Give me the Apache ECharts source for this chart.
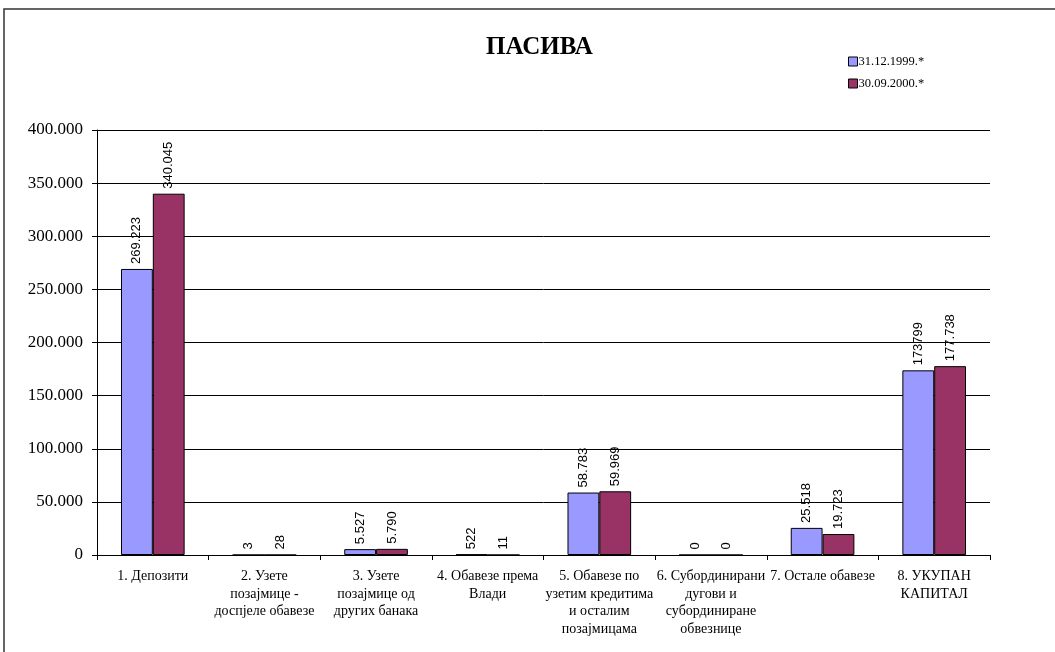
<!DOCTYPE html>
<html><head><meta charset="utf-8">
<script src="https://cdn.jsdelivr.net/npm/echarts@6/dist/echarts.min.js"></script>
<style>html,body{margin:0;padding:0;background:#fff}#c{width:1055px;height:652px}</style>
</head><body><div id="c"></div>
<script>
const categories = [
  "1. Депозити",
  "2. Узете\nпозајмице -\nдоспјеле обавезе",
  "3. Узете\nпозајмице од\nдругих банака",
  "4. Обавезе према\nВлади",
  "5. Обавезе по\nузетим кредитима\nи осталим\nпозајмицама",
  "6. Субординирани\nдугови и\nсубординиране\nобвезнице",
  "7. Остале обавезе",
  "8. УКУПАН\nКАПИТАЛ"
];
const seriesNames = ["31.12.1999.*", "30.09.2000.*"];
const values1999 = [269223, 3, 5527, 522, 58783, 0, 25518, 173799];
const values2000 = [340045, 28, 5790, 11, 59969, 0, 19723, 177738];
const labels1999 = ["269.223", "3", "5.527", "522", "58.783", "0", "25.518", "173799"];
const labels2000 = ["340.045", "28", "5.790", "11", "59.969", "0", "19.723", "177.738"];
const yTicks = [0, 50000, 100000, 150000, 200000, 250000, 300000, 350000, 400000];
const yTickLabels = ["0", "50.000", "100.000", "150.000", "200.000", "250.000", "300.000", "350.000", "400.000"];

const font = "'Liberation Serif','Times New Roman',serif";
const sans = "'Liberation Sans',Arial,sans-serif";

const chart = echarts.init(document.getElementById('c'));
function mkSeries(name, data, labels, color){
  return {
    name, type: 'bar', data, barGap: '0%', barCategoryGap: '43%',
    itemStyle: {color, borderColor: '#000', borderWidth: 1},
    label: {show: true, position: 'top', rotate: 90, align: 'left', verticalAlign: 'middle',
      distance: 5, color: '#000', fontFamily: sans, fontSize: 13,
      formatter: p => labels[p.dataIndex]}
  };
}
chart.setOption({
  animation: false,
  textStyle: {fontFamily: font},
  graphic: [{type: 'rect', shape: {x: 4, y: 9, width: 1200, height: 800},
    style: {fill: 'none', stroke: '#333', lineWidth: 1.5}}],
  title: {text: 'ПАСИВА', left: 481, top: 30,
    textStyle: {fontFamily: font, fontSize: 25, fontWeight: 'bold', color: '#000'}},
  legend: {orient: 'vertical', left: 843, top: 50, itemWidth: 9, itemHeight: 9, itemGap: 9,
    icon: 'rect',
    data: seriesNames, textStyle: {fontFamily: font, fontSize: 12.5, color: '#000', padding: [0,0,0,-4]},
    itemStyle: {borderColor: '#000', borderWidth: 1}},
  grid: {left: 97, right: 65, top: 130, bottom: 97, containLabel: false},
  xAxis: {type: 'category', data: categories,
    axisLine: {lineStyle: {color: '#000', width: 1}},
    axisTick: {show: true, alignWithLabel: false, length: 5, lineStyle: {color: '#000'}},
    axisLabel: {interval: 0, margin: 13, color: '#000', fontFamily: font, fontSize: 14, lineHeight: 17.5}},
  yAxis: {type: 'value', min: 0, max: 400000, interval: 50000,
    axisLine: {show: true, lineStyle: {color: '#000'}},
    axisTick: {show: true, length: 5, lineStyle: {color: '#000'}},
    splitLine: {show: true, lineStyle: {color: '#000', width: 1}},
    axisLabel: {margin: 14, color: '#000', fontFamily: font, fontSize: 17,
      formatter: v => yTickLabels[yTicks.indexOf(v)]}},
  series: [
    mkSeries(seriesNames[0], values1999, labels1999, '#9999FF'),
    mkSeries(seriesNames[1], values2000, labels2000, '#993366')
  ]
});
</script></body></html>
